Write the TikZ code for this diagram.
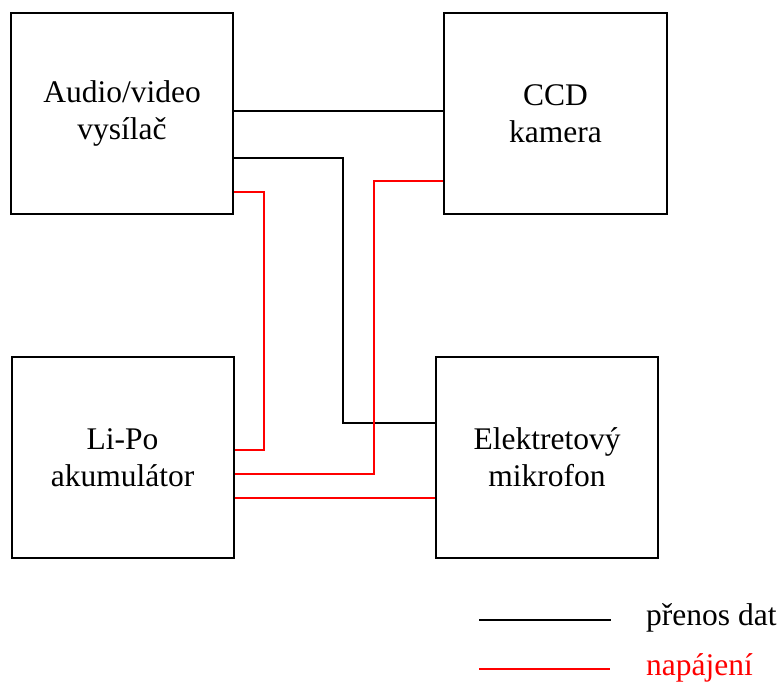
\documentclass[tikz,border=0pt]{standalone}
\usepackage{fontspec}
\setmainfont{Liberation Serif}
\begin{document}
\begin{tikzpicture}[x=1pt,y=-1pt,
  blockbox/.style={draw, line width=2pt, minimum width=222pt, minimum height=201pt,
    inner sep=0pt, align=center, font=\fontsize{31.5}{37}\selectfont},
  dataline/.style={draw=black, line width=1.8pt},
  powerline/.style={draw=red, line width=1.8pt},
  legtext/.style={anchor=base west, inner sep=0pt, font=\fontsize{31.5}{37}\selectfont}]
\useasboundingbox (0,0) rectangle (781,681);
\node[blockbox] (A) at (122,113.5) {Audio/video\\vysílač};
\node[blockbox, minimum width=223pt] (C) at (555.5,113.5) {CCD\\kamera};
\node[blockbox] (L) at (122.5,457.5) {Li-Po\\akumulátor};
\node[blockbox] (E) at (547,457.5) {Elektretový\\mikrofon};
% helper coordinates
\coordinate (b1) at (343,158);
\coordinate (b2) at (343,423);
\coordinate (r1) at (264,192);
\coordinate (r2) at (264,450);
\coordinate (s1) at (374,181);
\coordinate (s2) at (374,474);
\coordinate (y111) at (0,111);
\coordinate (y498) at (0,498);
% data lines
\draw[dataline] (A.east |- y111) -- (C.west |- y111);
\draw[dataline] (A.east |- b1) -- (b1) -- (b2) -- (E.west |- b2);
% power lines
\draw[powerline] (A.east |- r1) -- (r1) -- (r2) -- (L.east |- r2);
\draw[powerline] (C.west |- s1) -- (s1) -- (s2) -- (L.east |- s2);
\draw[powerline] (L.east |- y498) -- (E.west |- y498);
% legend
\coordinate (k1) at (479,620);
\coordinate (k2) at (611,620);
\coordinate (k3) at (479,669);
\coordinate (k4) at (610,669);
\draw[dataline] (k1) -- (k2);
\draw[powerline] (k3) -- (k4);
\node[legtext] (t1) at (646,625) {přenos dat};
\node[legtext, text=red] (t2) at (646,675) {napájení};
\end{tikzpicture}
\end{document}
